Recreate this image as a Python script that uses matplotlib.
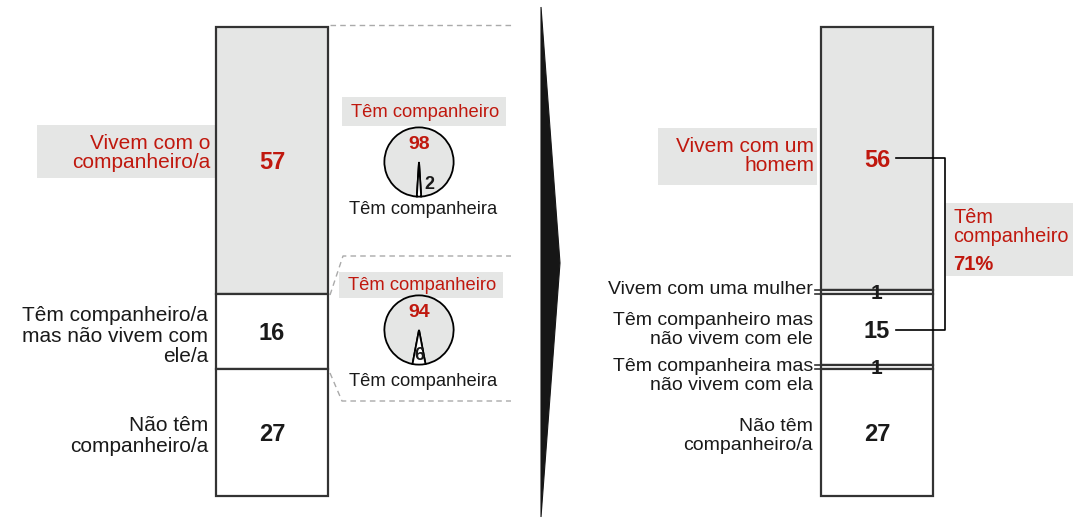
import matplotlib
matplotlib.use("Agg")
import matplotlib.pyplot as plt
from matplotlib.patches import Rectangle, Polygon
from matplotlib.transforms import offset_copy
import numpy as np

plt.rcParams['font.family'] = ['Liberation Sans', 'DejaVu Sans']

# ---------------- data ----------------
left_values = [57, 16, 27]
left_labels = ["Vivem com o\ncompanheiro/a", "Têm companheiro/a\nmas não vivem com\nele/a", "Não têm\ncompanheiro/a"]
right_values = [56, 1, 15, 1, 27]
right_labels = ["Vivem com um\nhomem", "Vivem com uma mulher", "Têm companheiro mas\nnão vivem com ele",
                "Têm companheira mas\nnão vivem com ela", "Não têm\ncompanheiro/a"]
pie1_values = [98, 2]
pie2_values = [94, 6]
pie_labels = ["Têm companheiro", "Têm companheira"]
total_label = "Têm\ncompanheiro"
total_value = 71

RED = '#c0180e'
GRAY = '#e5e6e5'
EDGE = '#333333'
TXT = '#1a1a1a'

W, H = 1073, 518
fig = plt.figure(figsize=(W / 100, H / 100), dpi=100)
ax0 = fig.add_axes([0, 0, 1, 1])
ax0.set_xlim(0, W)
ax0.set_ylim(H, 0)
ax0.axis('off')


def px_axes(x0, y0, x1, y1, **kw):
    return fig.add_axes([x0 / W, (H - y1) / H, (x1 - x0) / W, (y1 - y0) / H], **kw)


def stacked_bar(ax, values, colors):
    ax.set_xlim(0, 1)
    ax.set_ylim(100, 0)
    ax.axis('off')
    bottoms = np.concatenate([[0], np.cumsum(values)[:-1]])
    for v, b, c in zip(values, bottoms, colors):
        ax.bar(0.5, v, bottom=b, width=1.0, color=c, edgecolor=EDGE, linewidth=1.6, clip_on=False)
    return bottoms

# ---------------- left bar ----------------
axL = px_axes(216, 27, 328, 496)
bL = stacked_bar(axL, left_values, [GRAY, 'white', 'white'])
num_colors_L = [RED, TXT, TXT]
trL = offset_copy(axL.transData, fig=fig, x=0, y=-1.5, units='points')
for v, b, c in zip(left_values, bL, num_colors_L):
    axL.text(0.5, b + v / 2, str(v), ha='center', va='center', fontsize=17, fontweight='bold', color=c,
             transform=trL)

# label box + labels left
ax0.add_patch(Rectangle((37, 125), 216 - 37, 53, facecolor=GRAY, edgecolor='none', zorder=0))
ax0.text(210, 153, left_labels[0], ha='right', va='center', fontsize=15, color=RED, linespacing=1.05)
ax0.text(208, 336, left_labels[1], ha='right', va='center', fontsize=15, color=TXT, linespacing=1.08)
ax0.text(208, 436, left_labels[2], ha='right', va='center', fontsize=15, color=TXT, linespacing=1.08)

# ---------------- dashed brackets ----------------
dash = dict(color='#aaaaaa', lw=1.0, linestyle=(0, (4, 3)))
ax0.plot([330, 513], [25, 25], **dash)
ax0.plot([330, 343, 511], [295, 256, 256], **dash)
ax0.plot([330, 342, 511], [373, 401, 401], **dash)

# ---------------- pies ----------------
def draw_pie(cx, cy, r, values, box):
    ax0.add_patch(Rectangle((box[0], box[1]), box[2] - box[0], box[3] - box[1],
                            facecolor=GRAY, edgecolor='none', zorder=0))
    ax0.text((box[0] + box[2]) / 2 + 1, (box[1] + box[3]) / 2 + 1, pie_labels[0], ha='center', va='center',
             fontsize=13.2, color=RED)
    axp = px_axes(cx - r - 1, cy - r - 1, cx + r + 1, cy + r + 1)
    start = 270 - 360 * (values[0] + values[1] / 2) / sum(values)
    axp.pie(values, colors=[GRAY, 'white'], startangle=start, radius=1,
            wedgeprops=dict(edgecolor='black', linewidth=1.3))
    axp.set_xlim(-1.04, 1.04)
    axp.set_ylim(-1.04, 1.04)
    axp.set_aspect('equal')
    axp.axis('off')
    axp.text(0, 0.5, str(values[0]), ha='center', va='center', fontsize=14, fontweight='bold', color=RED)
    return axp

ap1 = draw_pie(419, 162, 35, pie1_values, (342, 97, 506, 126))
ap1.text(0.3, -0.66, str(pie1_values[1]), ha='center', va='center', fontsize=13, fontweight='bold', color=TXT)
ax0.text(423, 210, pie_labels[1], ha='center', va='center', fontsize=13.2, color=TXT)

ap2 = draw_pie(419, 330, 35, pie2_values, (339, 272, 503, 298))
ap2.texts[0].set_position((0, 0.62))
ap2.text(0.02, -0.75, str(pie2_values[1]), ha='center', va='center', fontsize=13, fontweight='bold', color=TXT)
ax0.text(423, 381, pie_labels[1], ha='center', va='center', fontsize=13.2, color=TXT)

# ---------------- middle arrow ----------------
ax0.add_patch(Polygon([[541, 7], [560, 263], [541, 517]], closed=True, facecolor='#161616',
                      edgecolor='#161616', lw=0.8))

# ---------------- right bar ----------------
axR = px_axes(821, 27, 933, 496)
bR = stacked_bar(axR, right_values, [GRAY, 'white', 'white', 'white', 'white'])
num_colors_R = [RED, TXT, TXT, TXT, TXT]
trR = offset_copy(axR.transData, fig=fig, x=0, y=-1.5, units='points')
for v, b, c in zip(right_values, bR, num_colors_R):
    axR.text(0.5, b + v / 2 + (0.3 if v == 1 else 0), str(v), ha='center', va='center',
             fontsize=17 if v > 1 else 15, fontweight='bold', color=c,
             transform=trR if v > 1 else axR.transData)

# small extension lines for the thin segments
for v, b in zip(right_values, bR):
    if v == 1:
        for yy in (b, b + v):
            axR.plot([-0.055, 0], [yy, yy], color=EDGE, lw=1.2, clip_on=False,
                     transform=axR.get_yaxis_transform())

# connector between 56 and 15
y56 = bR[0] + right_values[0] / 2
y15 = bR[2] + right_values[2] / 2
axR.plot([0.67, 1.11, 1.11, 0.67], [y56, y56, y15, y15], color='black', lw=1.2,
         clip_on=False, transform=axR.get_yaxis_transform())

# right labels
ax0.add_patch(Rectangle((658, 128), 817 - 658, 57, facecolor=GRAY, edgecolor='none', zorder=0))
ax0.text(814, 156, right_labels[0], ha='right', va='center', fontsize=15, color=RED, linespacing=1.05)
ax0.text(813, 290, right_labels[1], ha='right', va='center', fontsize=14, color=TXT)
ax0.text(813, 330, right_labels[2], ha='right', va='center', fontsize=14, color=TXT, linespacing=1.08)
ax0.text(813, 376, right_labels[3], ha='right', va='center', fontsize=14, color=TXT, linespacing=1.08)
ax0.text(813, 436, right_labels[4], ha='right', va='center', fontsize=14, color=TXT, linespacing=1.08)

# total box
ax0.add_patch(Rectangle((946, 203), W - 946, 73, facecolor=GRAY, edgecolor='none', zorder=0))
ax0.text(953, 227, total_label, ha='left', va='center', fontsize=14.3, color=RED, linespacing=1.0)
ax0.text(953, 264, f"{total_value}%", ha='left', va='center', fontsize=14.5, fontweight='bold', color=RED)

fig.savefig('out.png', dpi=100)
